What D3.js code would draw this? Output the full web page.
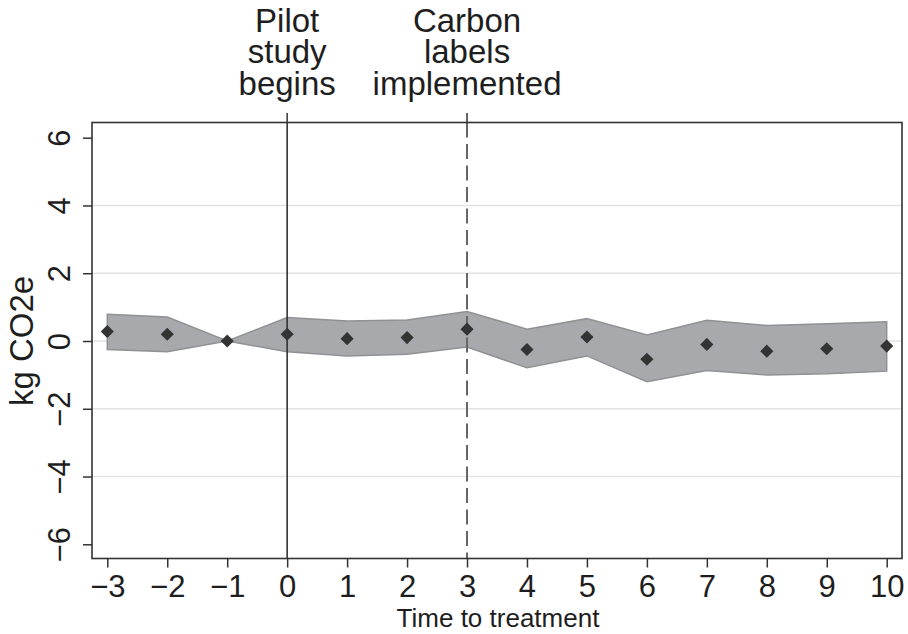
<!DOCTYPE html>
<html>
<head>
<meta charset="utf-8">
<script src="https://cdn.jsdelivr.net/npm/d3@7"></script>
<style>
  body { margin: 0; background: #fff; }
  text { font-family: "Liberation Sans", Arial, Helvetica, sans-serif; fill: #1e1e1e; }
</style>
</head>
<body>
<div id="chart"></div>
<script>
// time to treatment (periods)
var periods = [-3, -2, -1, 0, 1, 2, 3, 4, 5, 6, 7, 8, 9, 10];
// point estimates, kg CO2e
var estimates = [0.28, 0.20, 0.00, 0.20, 0.07, 0.10, 0.35, -0.25, 0.12, -0.54, -0.10, -0.30, -0.23, -0.15];
// confidence band
var upper = [0.79, 0.71, 0.00, 0.69, 0.59, 0.62, 0.87, 0.35, 0.66, 0.18, 0.61, 0.46, 0.51, 0.57];
var lower = [-0.25, -0.32, 0.00, -0.32, -0.44, -0.39, -0.18, -0.79, -0.44, -1.20, -0.87, -1.00, -0.97, -0.89];

var xTicks = [-3, -2, -1, 0, 1, 2, 3, 4, 5, 6, 7, 8, 9, 10];
var yTicks = [-6, -4, -2, 0, 2, 4, 6];
var gridTicks = [-4, -2, 0, 2, 4];

// event markers drawn on the top axis
var events = [
  {x: 0, lines: ["Pilot", "study", "begins"], dashed: false},
  {x: 3, lines: ["Carbon", "labels", "implemented"], dashed: true}
];

function init() {
  var w = 908, h = 634;
  var frame = {left: 92, right: 902, top: 122.5, bottom: 558.5};

  var svg = d3.select("#chart").append("svg")
      .attr("width", w)
      .attr("height", h);

  var x = d3.scaleLinear().domain([-3, 10]).range([107.3, 886.7]);
  var y = d3.scaleLinear().domain([-6, 6]).range([544.3, 137.7]);

  var data = periods.map(function(p, i) {
    return {x: p, est: estimates[i], lo: lower[i], hi: upper[i]};
  });

  // grid lines
  svg.append("g").selectAll("line")
    .data(gridTicks)
    .enter().append("line")
    .attr("x1", frame.left).attr("x2", frame.right)
    .attr("y1", function(d) { return y(d); })
    .attr("y2", function(d) { return y(d); })
    .attr("stroke", "#e3e3e3")
    .attr("stroke-width", 1.5);

  // confidence band
  var area = d3.area()
      .x(function(d) { return x(d.x); })
      .y0(function(d) { return y(d.lo); })
      .y1(function(d) { return y(d.hi); });

  svg.append("path")
    .datum(data)
    .attr("d", area)
    .attr("fill", "#a8a9ad")
    .attr("stroke", "#909195")
    .attr("stroke-width", 1.5)
    .attr("stroke-linejoin", "miter");

  // event lines
  svg.append("g").selectAll("line")
    .data(events)
    .enter().append("line")
    .attr("x1", function(d) { return x(d.x); })
    .attr("x2", function(d) { return x(d.x); })
    .attr("y1", frame.top)
    .attr("y2", frame.bottom)
    .attr("stroke", function(d) { return d.dashed ? "#666" : "#333"; })
    .attr("stroke-width", function(d) { return d.dashed ? 2 : 1.6; })
    .attr("stroke-dasharray", function(d) { return d.dashed ? "15,6.5" : null; });

  // point estimates
  var diamond = d3.symbol().type(d3.symbolSquare).size(86);
  svg.append("g").selectAll("path")
    .data(data)
    .enter().append("path")
    .attr("d", diamond)
    .attr("transform", function(d) {
      return "translate(" + x(d.x) + "," + y(d.est) + ") rotate(45)";
    })
    .attr("fill", "#333");

  // plot frame
  svg.append("rect")
    .attr("x", frame.left).attr("y", frame.top)
    .attr("width", frame.right - frame.left)
    .attr("height", frame.bottom - frame.top)
    .attr("fill", "none")
    .attr("stroke", "#333")
    .attr("stroke-width", 1.6);

  // bottom axis
  var xAxis = d3.axisBottom(x)
      .tickValues(xTicks)
      .tickSize(9)
      .tickPadding(7)
      .tickFormat(function(d) { return d < 0 ? "\u2212" + Math.abs(d) : d; });

  var gx = svg.append("g")
      .attr("transform", "translate(0," + frame.bottom + ")")
      .call(xAxis);
  gx.select(".domain").remove();
  gx.selectAll(".tick line").attr("stroke", "#333").attr("stroke-width", 1.5);
  gx.selectAll(".tick text")
    .attr("font-size", 31)
    .attr("fill", "#1e1e1e")
    .attr("dy", "0.71em");

  // left axis with rotated labels
  var yAxis = d3.axisLeft(y)
      .tickValues(yTicks)
      .tickSize(9)
      .tickFormat(function(d) { return d < 0 ? "\u2212" + Math.abs(d) : d; });

  var gy = svg.append("g")
      .attr("transform", "translate(" + frame.left + ",0)")
      .call(yAxis);
  gy.select(".domain").remove();
  gy.selectAll(".tick line").attr("stroke", "#333").attr("stroke-width", 1.5);
  gy.selectAll(".tick text")
    .attr("font-size", 31)
    .attr("fill", "#1e1e1e")
    .attr("x", null).attr("dy", null)
    .attr("text-anchor", "middle")
    .attr("transform", "translate(-22,0) rotate(-90)");

  // top axis: event ticks and labels
  var gt = svg.append("g").selectAll("g")
    .data(events)
    .enter().append("g")
    .attr("transform", function(d) { return "translate(" + x(d.x) + ",0)"; });

  gt.append("line")
    .attr("y1", frame.top - 9.5).attr("y2", frame.top)
    .attr("stroke", "#333").attr("stroke-width", 1.5);

  gt.selectAll("text")
    .data(function(d) { return d.lines; })
    .enter().append("text")
    .attr("text-anchor", "middle")
    .attr("font-size", 33)
    .attr("y", function(d, i) { return 31.7 + i * 31.7; })
    .text(function(d) { return d; });

  // axis titles
  svg.append("text")
    .attr("x", (frame.left + frame.right) / 2 + 1)
    .attr("y", 626.5)
    .attr("text-anchor", "middle")
    .attr("font-size", 26)
    .text("Time to treatment");

  svg.append("text")
    .attr("transform", "translate(33," + 341 + ") rotate(-90)")
    .attr("text-anchor", "middle")
    .attr("font-size", 33)
    .text("kg CO2e");
}

window.onload = init;
</script>
</body>
</html>
